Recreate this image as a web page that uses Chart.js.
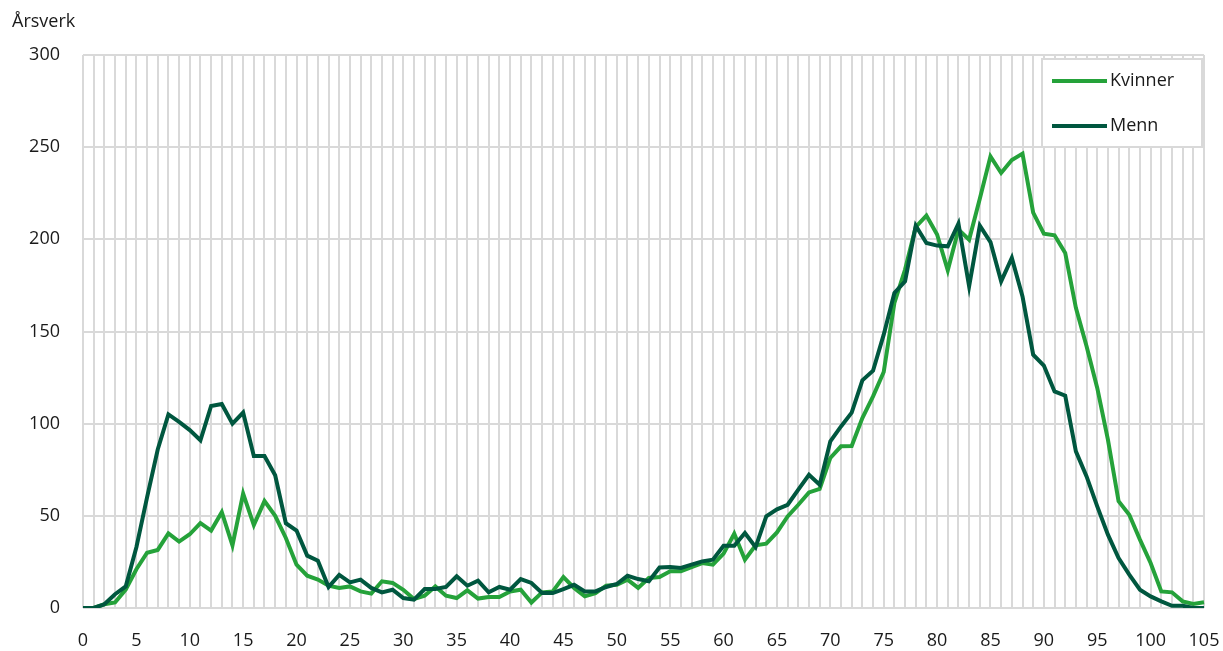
<!DOCTYPE html>
<html>
<head>
<meta charset="utf-8">
<script src="https://cdn.jsdelivr.net/npm/chart.js@4.4.1/dist/chart.umd.min.js"></script>
<style>
  body { margin: 0; background: #fff; }
  canvas { display: block; }
</style>
</head>
<body>
<canvas id="chart" width="1223" height="651"></canvas>
<script>
// Årsverk etter alder, kvinner og menn
const ALDER = [
  0, 1, 2, 3, 4, 5, 6, 7, 8, 9, 10, 11, 12, 13, 14, 15, 16, 17, 18, 19, 20,
  21, 22, 23, 24, 25, 26, 27, 28, 29, 30, 31, 32, 33, 34, 35, 36, 37, 38, 39, 40,
  41, 42, 43, 44, 45, 46, 47, 48, 49, 50, 51, 52, 53, 54, 55, 56, 57, 58, 59, 60,
  61, 62, 63, 64, 65, 66, 67, 68, 69, 70, 71, 72, 73, 74, 75, 76, 77, 78, 79, 80,
  81, 82, 83, 84, 85, 86, 87, 88, 89, 90, 91, 92, 93, 94, 95, 96, 97, 98, 99, 100,
  101, 102, 103, 104, 105
];

const KVINNER = [
  0, 0, 2, 3, 10, 21, 30, 31.5, 40.5, 36, 40, 46, 42, 52, 34, 62, 45, 58, 50, 38, 23.5,
  17.5, 15.4, 12.1, 10.9, 11.7, 9, 7.8, 14.5, 13.6, 9.9, 4.9, 6.7, 11.7, 6.7, 5.4, 9.6, 5.1, 6, 6, 9,
  9.9, 3, 8.5, 9, 16.8, 10.9, 6.3, 8.1, 12.1, 12.6, 15.4, 10.9, 16.3, 16.8, 19.9, 19.9, 22.2, 24.4, 23.5, 29.5,
  40.3, 26.2, 34, 34.9, 41, 49.7, 56, 62.7, 64.6, 81.4, 87.7, 87.9, 103, 114.8, 128, 165.5, 183.6, 206.7, 212.9, 202.6,
  183.2, 205.3, 199.8, 222, 245, 236, 243, 246.5, 214.5, 203.1, 202.2, 192.6, 162.8, 142, 119.4, 91.3, 57.9, 50.6, 37.1, 24.4,
  9, 8.5, 3.6, 2.2, 3.1
];

const MENN = [
  0, 0, 2, 7.5, 11.7, 33, 60, 86, 105, 101, 96.5, 91, 109.6, 110.7, 100, 106, 82.5, 82.5, 72, 46, 42,
  28.4, 25.7, 11.4, 18, 13.9, 15.4, 10.9, 8.5, 9.9, 5.4, 4.5, 10.3, 10.3, 11.4, 17.2, 12.1, 14.8, 8.5, 11.4, 9.9,
  15.7, 13.6, 8.1, 8.1, 10.3, 12.6, 9, 9, 11.4, 13, 17.5, 15.7, 14.5, 22, 22.2, 21.7, 23.5, 25.3, 26.2, 33.8,
  33.8, 40.7, 33, 49.7, 53.5, 56, 64.2, 72.3, 66.9, 90.4, 98.5, 106, 123.5, 128.7, 148.3, 170.9, 177.2, 207.4, 198, 196.6,
  196.2, 208.5, 174.5, 207.4, 198.5, 177.2, 189.9, 169, 137.4, 131.5, 117.5, 115.2, 85, 71.4, 55.1, 39.8, 27.1, 18.1, 9.9, 6.3,
  3.6, 1.2, 1.2, 0, 0
];

const FONT = '"Open Sans", "Noto Sans", sans-serif';
const GRID = '#d9d9d9';
const TEKST = '#1a1a1a';

// Tegner aksetittel oppe til venstre og forklaringsboksen inne i plottet
const ekstraTegning = {
  id: 'ekstraTegning',
  afterDraw(chart) {
    const { ctx, chartArea } = chart;
    ctx.save();
    ctx.font = `18px ${FONT}`;
    ctx.fillStyle = TEKST;
    ctx.textBaseline = 'middle';
    ctx.textAlign = 'left';
    ctx.fillText('Årsverk', 12, 22);

    const w = 160, h = 88;
    const x = chartArea.right - w - 2, y = chartArea.top + 4;
    ctx.fillStyle = '#fff';
    ctx.fillRect(x, y, w, h);
    ctx.strokeStyle = GRID;
    ctx.lineWidth = 2;
    ctx.strokeRect(x, y, w, h);

    chart.data.datasets.forEach((ds, i) => {
      const ly = y + 22 + i * 45;
      ctx.strokeStyle = ds.borderColor;
      ctx.lineWidth = 4;
      ctx.beginPath();
      ctx.moveTo(x + 10, ly);
      ctx.lineTo(x + 65, ly);
      ctx.stroke();
      ctx.fillStyle = TEKST;
      ctx.fillText(ds.label, x + 68, ly);
    });
    ctx.restore();
  }
};

new Chart(document.getElementById('chart'), {
  type: 'line',
  data: {
    labels: ALDER,
    datasets: [
      { label: 'Kvinner', data: KVINNER, borderColor: '#25a23a', order: 1 },
      { label: 'Menn', data: MENN, borderColor: '#00573f', order: 0 },
    ]
  },
  options: {
    responsive: false,
    animation: false,
    layout: { padding: { top: 55, right: 19, left: 0, bottom: 0 } },
    elements: {
      line: { borderWidth: 4, tension: 0, borderJoinStyle: 'miter', fill: false },
      point: { radius: 0, hoverRadius: 0 }
    },
    plugins: { legend: { display: false }, tooltip: { enabled: false } },
    scales: {
      x: {
        type: 'category',
        offset: false,
        grid: { color: GRID, lineWidth: 2, drawTicks: false },
        border: { display: false },
        ticks: {
          autoSkip: false, maxRotation: 0, padding: 22,
          color: TEKST, font: { family: FONT, size: 18 },
          callback: (v, i) => (ALDER[i] % 5 === 0 ? String(ALDER[i]) : '')
        },
        // fast høyde og ingen ekstra luft for ytterste etikett
        afterFit: s => { s.height = 43; s.paddingLeft = 0; s.paddingRight = 0; }
      },
      y: {
        min: 0, max: 300,
        grid: { color: GRID, lineWidth: 2, drawTicks: false },
        border: { display: false },
        ticks: { stepSize: 50, padding: 23, color: TEKST, font: { family: FONT, size: 18 } },
        afterFit: s => { s.width = 83; }
      }
    }
  },
  plugins: [ekstraTegning]
});
</script>
</body>
</html>
